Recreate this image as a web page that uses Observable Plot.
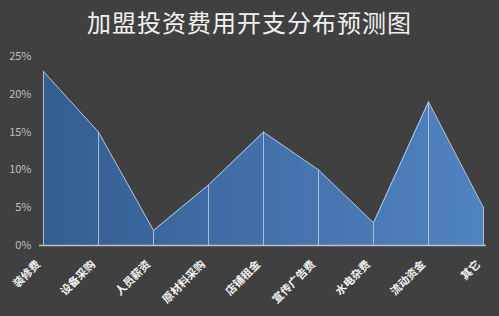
<!DOCTYPE html>
<html><head><meta charset="utf-8">
<script src="https://cdn.jsdelivr.net/npm/d3@7"></script>
<script src="https://cdn.jsdelivr.net/npm/@observablehq/plot@0.6"></script>
<style>
html,body{margin:0;padding:0;background:#404040;}
#wrap{width:499px;height:316px;background:#404040;overflow:hidden;}
#title{height:44px;line-height:44px;text-align:center;color:#f2f2f2;font-family:"Noto Sans CJK SC",sans-serif;font-size:24px;letter-spacing:1px;}
</style></head>
<body><div id="wrap"><div id="title">加盟投资费用开支分布预测图</div><div id="chart"></div></div>
<script>
const categories = ["装修费","设备采购","人员薪资","原材料采购","店铺租金","宣传广告费","水电杂费","流动资金","其它"];
const values = [0.23,0.15,0.02,0.08,0.15,0.10,0.03,0.19,0.05];
const yTicks = [0,0.05,0.10,0.15,0.20,0.25];

const data = categories.map((c,i)=>({cat:c, v:values[i]}));

const gradient = () => {
  const defs = d3.create("svg:defs");
  const g = defs.append("linearGradient").attr("id","areaGrad").attr("x1","0").attr("x2","1").attr("y1","0").attr("y2","0");
  g.append("stop").attr("offset","0%").attr("stop-color","#345d92");
  g.append("stop").attr("offset","100%").attr("stop-color","#5183c0");
  return defs.node();
};

const chart = Plot.plot({
  width: 499,
  height: 272,
  marginTop: 12,
  marginLeft: 39,
  marginRight: 13,
  marginBottom: 71,
  style: {background:"#404040", fontFamily:"'Noto Sans CJK SC', sans-serif", overflow:"visible"},
  x: {type:"point", domain: categories, padding: 0, label: null},
  y: {domain:[0,0.25], label:null},
  marks: [
    gradient,
    Plot.gridY(yTicks.filter(d=>d>0), {stroke:"#8a8a8a", strokeOpacity:1, strokeDasharray:"1.5,2", x1: categories[0], x2: categories[categories.length-1]}),
    Plot.areaY(data, {x:"cat", y:"v", fill:"url(#areaGrad)", curve:"linear"}),
    Plot.ruleX(data, {x:"cat", y1:0, y2:"v", stroke:"#a9bdd6", strokeWidth:1}),
    Plot.lineY(data, {x:"cat", y:"v", stroke:"#b6c9e0", strokeWidth:1}),
    Plot.ruleY([0], {stroke:"#bfbfbf", strokeWidth:1.5}),
    Plot.axisY({ticks: yTicks, tickFormat: d=>Math.round(d*100)+"%", tickSize:0, tickPadding:8, fill:"#bfbfbf", fontSize:11, label:null}),
    Plot.axisX({tickSize:0, tickRotate:-45, tickPadding:17, dx:-5, fill:"#f2f2f2", fontSize:11, fontWeight:"bold", label:null})
  ]
});
document.getElementById("chart").appendChild(chart);
</script>
</body></html>
